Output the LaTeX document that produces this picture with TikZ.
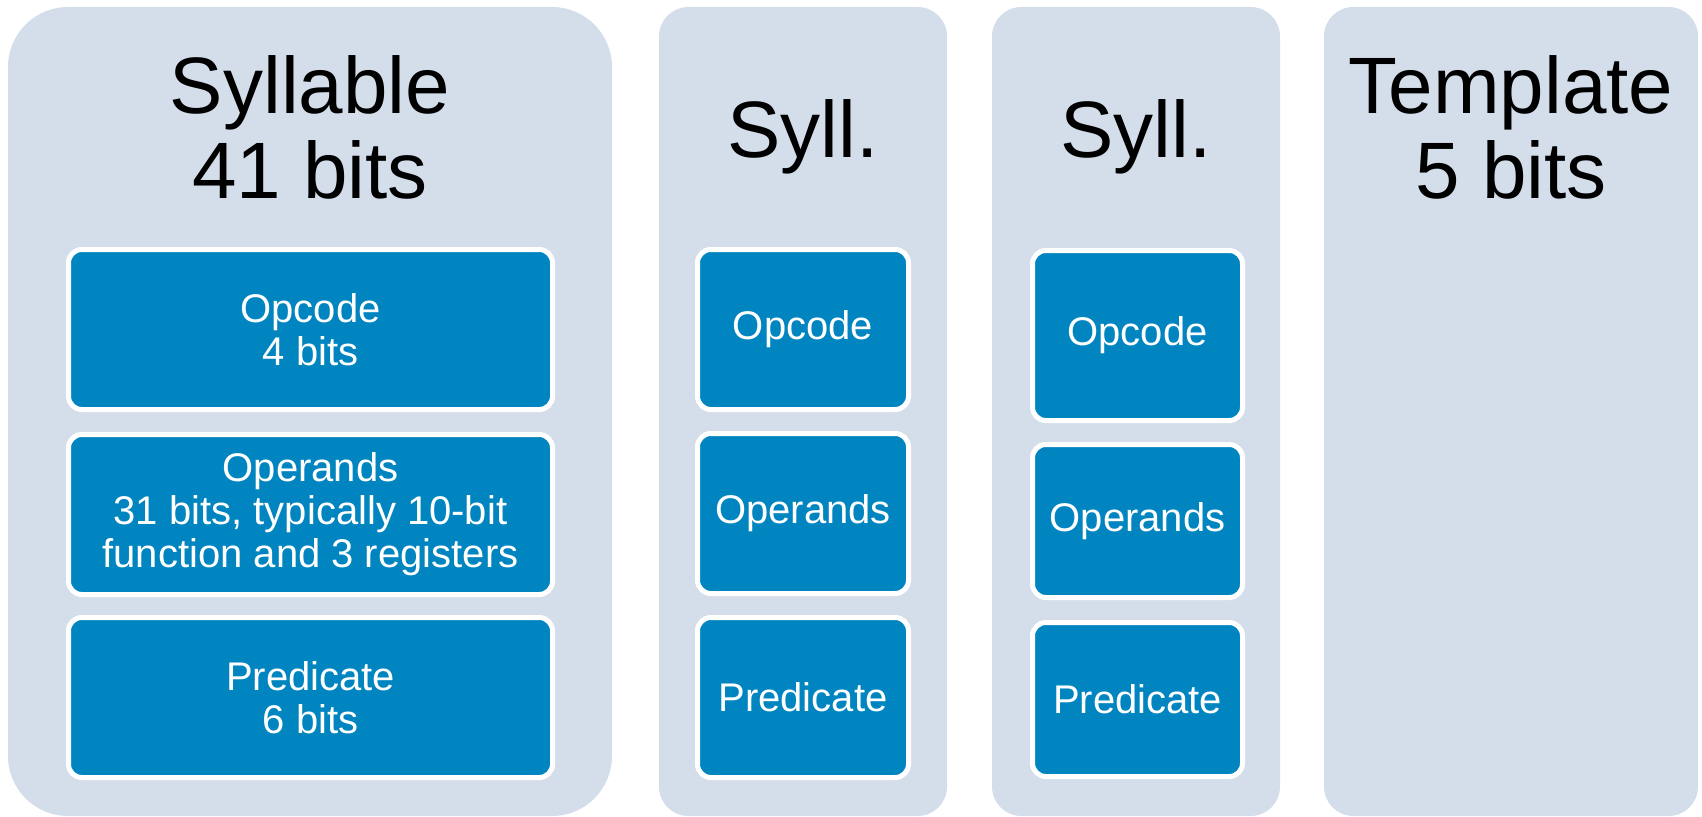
\documentclass[tikz,border=0pt]{standalone}
\usepackage{fontspec}
\setmainfont{Liberation Sans}
\definecolor{panelfill}{RGB}{212,222,234}
\definecolor{fieldfill}{RGB}{0,133,192}
\tikzset{
  px/.style 2 args={minimum width=#1*0.75pt, minimum height=#2*0.75pt},
  panel/.style={rectangle, fill=panelfill, inner sep=0pt, outer sep=0pt},
  field/.style={rectangle, fill=fieldfill, draw=white, line width=3.75pt,
    rounded corners=10pt, inner sep=0pt, text=white, align=center,
    font=\fontsize{30}{32.25}\selectfont},
  heading/.style={anchor=base, align=center, text=black, inner sep=0pt,
    font=\fontsize{60}{63.75}\selectfont},
}
\begin{document}
\begin{tikzpicture}[x=0.75pt,y=-0.75pt]
\useasboundingbox (0,0) rectangle (1702,817);

% instruction bundle: three syllables and the template
\node[panel, px={604}{809}, rounded corners=45pt] (sylA) at (310,411.5) {};
\node[panel, px={288}{809}, rounded corners=22pt] (sylB) at (803,411.5) {};
\node[panel, px={288}{809}, rounded corners=22pt] (sylC) at (1136,411.5) {};
\node[panel, px={374}{809}, rounded corners=22pt] (tmpl) at (1511,411.5) {};

% headings (base anchor sits on the last line)
\node[heading] (sylAtitle) at (310,198) {Syllable\\41 bits};
\node[heading] (sylBtitle) at (803,157) {Syll.};
\node[heading] (sylCtitle) at (1136,157) {Syll.};
\node[heading] (tmpltitle) at (1511,198) {Template\\5 bits};

% fields of the first syllable
\node[field, px={484}{160}] (opA) at (310.5,329.5) {Opcode\\4 bits};
\node[field, px={484}{160}] (orA) at (310.5,514.5) {Operands\\31 bits, typically 10-bit\\function and 3 registers};
\node[field, px={484}{160}] (prA) at (310.5,697.5) {Predicate\\6 bits};

% fields of the second syllable
\node[field, px={211}{160}] (opB) at (803,329.5) {Opcode};
\node[field, px={211}{160}] (orB) at (803,513.5) {Operands};
\node[field, px={211}{160}] (prB) at (803,697.5) {Predicate};

% fields of the third syllable
\node[field, px={210}{170}] (opC) at (1137.5,335.5) {Opcode};
\node[field, px={210}{153}] (orC) at (1137.5,521) {Operands};
\node[field, px={210}{154}] (prC) at (1137.5,699.5) {Predicate};
\end{tikzpicture}
\end{document}
